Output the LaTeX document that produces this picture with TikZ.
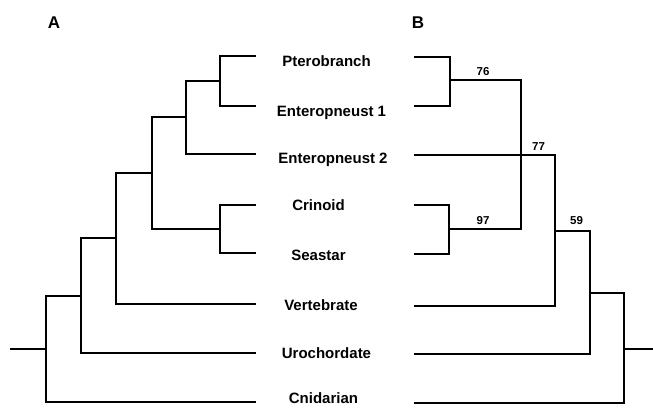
\documentclass[tikz,border=0pt]{standalone}
\usepackage{fontspec}
\setmainfont{Liberation Sans}
\begin{document}
\begin{tikzpicture}[x=1pt,y=-1pt,
  branch/.style={line width=1.8pt,line join=miter},
  taxon/.style={anchor=base,inner sep=0pt,font=\fontsize{15}{15}\selectfont\bfseries},
  support/.style={anchor=base,inner sep=0pt,font=\fontsize{11.5}{11.5}\selectfont\bfseries},
  panel/.style={anchor=base,inner sep=0pt,font=\fontsize{17}{17}\selectfont\bfseries}]
\useasboundingbox (0,0) rectangle (653,407);
% panel letters
\node[panel] (pA) at (54,28) {A};
\node[panel] (pB) at (418,28) {B};
% taxon labels
\node[taxon] (tPt) at (326.5,66) {Pterobranch};
\node[taxon] (tE1) at (331.5,116) {Enteropneust 1};
\node[taxon] (tE2) at (333,163.5) {Enteropneust 2};
\node[taxon] (tCr) at (318.5,210.5) {Crinoid};
\node[taxon] (tSe) at (318.5,260.5) {Seastar};
\node[taxon] (tVe) at (321,310.5) {Vertebrate};
\node[taxon] (tUr) at (326.5,358.5) {Urochordate};
\node[taxon] (tCn) at (323.5,403.5) {Cnidarian};
% ---- tree A ----
\coordinate (aPt) at (256,56);
\coordinate (aE1) at (256,106);
\coordinate (aE2) at (256,154);
\coordinate (aCr) at (256,205);
\coordinate (aSe) at (256,253);
\coordinate (aVe) at (256,304);
\coordinate (aUr) at (256,353);
\coordinate (aCn) at (256,402);
\coordinate (n1) at (220,81);
\coordinate (n2) at (186,117);
\coordinate (n3) at (220,229);
\coordinate (n4) at (152,173);
\coordinate (n5) at (116,238);
\coordinate (n6) at (81,296);
\coordinate (n7) at (46,349);
\coordinate (rA) at (10,349);
\draw[branch] (aPt) -| (n1) |- (aE1);
\draw[branch] (n1) -| (n2) |- (aE2);
\draw[branch] (aCr) -| (n3) |- (aSe);
\draw[branch] (n2) -| (n4) |- (n3);
\draw[branch] (n4) -| (n5) |- (aVe);
\draw[branch] (n5) -| (n6) |- (aUr);
\draw[branch] (n6) -| (n7) |- (aCn);
\draw[branch] (n7) -- (rA);
% ---- tree B ----
\coordinate (bPt) at (414,57);
\coordinate (bE1) at (414,106);
\coordinate (bE2) at (414,155);
\coordinate (bCr) at (414,205);
\coordinate (bSe) at (414,254);
\coordinate (bVe) at (414,306);
\coordinate (bUr) at (414,354);
\coordinate (bCn) at (414,403);
\coordinate (m1) at (450,80);
\coordinate (m3) at (449,229);
\coordinate (m2) at (521,155);
\coordinate (m4) at (555,231);
\coordinate (m5) at (590,293);
\coordinate (m6) at (624,349);
\coordinate (rB) at (653,349);
\draw[branch] (bPt) -| (m1) |- (bE1);
\draw[branch] (bCr) -| (m3) |- (bSe);
\draw[branch] (m1) -| (m2) |- (m3);
\draw[branch] (bE2) -- (m2);
\draw[branch] (m2) -| (m4) |- (bVe);
\draw[branch] (m4) -| (m5) |- (bUr);
\draw[branch] (m5) -| (m6) |- (bCn);
\draw[branch] (m6) -- (rB);
% support values
\node[support] (s76) at (483,75) {76};
\node[support] (s77) at (538.5,150) {77};
\node[support] (s97) at (483,224) {97};
\node[support] (s59) at (576.5,224) {59};
\end{tikzpicture}
\end{document}
